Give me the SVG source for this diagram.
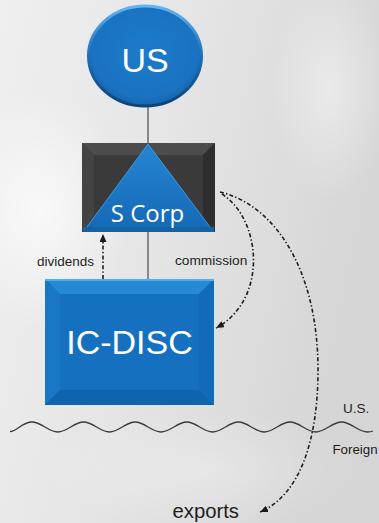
<svg xmlns="http://www.w3.org/2000/svg" width="379" height="523" viewBox="0 0 379 523">
  <defs>
    <linearGradient id="bg" x1="0" y1="0" x2="1" y2="0.3">
      <stop offset="0" stop-color="#efefef"/>
      <stop offset="0.45" stop-color="#e6e6e6"/>
      <stop offset="1" stop-color="#d6d6d6"/>
    </linearGradient>
    <radialGradient id="glowA" cx="0.5" cy="0.5" r="0.5">
      <stop offset="0" stop-color="#ffffff" stop-opacity="0.7"/>
      <stop offset="1" stop-color="#ffffff" stop-opacity="0"/>
    </radialGradient>
    <radialGradient id="usFill" cx="0.5" cy="0.45" r="0.55">
      <stop offset="0" stop-color="#1d7bcc"/>
      <stop offset="0.85" stop-color="#1a72c1"/>
      <stop offset="1" stop-color="#1563ac"/>
    </radialGradient>
    <linearGradient id="usRim" x1="0" y1="0" x2="0" y2="1">
      <stop offset="0" stop-color="#62b4f2"/>
      <stop offset="0.5" stop-color="#1b6fbb"/>
      <stop offset="1" stop-color="#0b4479"/>
    </linearGradient>
    <linearGradient id="triFill" x1="0" y1="0" x2="0" y2="1">
      <stop offset="0" stop-color="#2585d2"/>
      <stop offset="1" stop-color="#1569b5"/>
    </linearGradient>
    <marker id="arrow" viewBox="0 0 8 7" refX="8" refY="3.5" markerWidth="8" markerHeight="7" markerUnits="userSpaceOnUse" orient="auto">
      <path d="M0,0 L8,3.5 L0,7 z" fill="#1a1a1a"/>
    </marker>
    <style>
      .solid { stroke: #6a6a6a; stroke-width: 1.5; fill: none; }
      .flow { stroke: #1e1e1e; stroke-width: 1.6; fill: none; stroke-dasharray: 4 2.2 1.4 2.2; }
      .lbl { font-family: "Liberation Sans", Arial, sans-serif; fill: #1e1e1e; }
      .big { font-family: "Liberation Sans", Arial, sans-serif; fill: #ffffff; }
    </style>
  </defs>

  <!-- marbled backdrop -->
  <rect x="0" y="0" width="379" height="523" fill="url(#bg)"/>
  <ellipse cx="40" cy="210" rx="90" ry="120" fill="url(#glowA)"/>
  <ellipse cx="330" cy="90" rx="60" ry="110" fill="url(#glowA)" opacity="0.6"/>
  <ellipse cx="200" cy="470" rx="160" ry="60" fill="url(#glowA)" opacity="0.4"/>

  <!-- connectors -->
  <g id="connectors">
    <line class="solid" x1="148" y1="106" x2="148" y2="143"/>
    <line class="solid" x1="148" y1="232" x2="148" y2="279"/>
    <line class="flow" x1="103" y1="279" x2="103" y2="234" marker-end="url(#arrow)"/>
    <path class="flow" d="M222 194 C262 220 268 300 216 328" marker-end="url(#arrow)"/>
    <path class="flow" d="M220 192 C275 205 318 270 318 370 C318 440 300 495 260 512" marker-end="url(#arrow)"/>
    <path d="M10 431.5 C16 432 22 422 32 422 C41.3 422 48.5 432 57.8 432 C67.1 432 74.3 422 83.6 422 C92.9 422 100.1 432 109.4 432 C118.7 432 125.9 422 135.2 422 C144.5 422 151.7 432 161 432 C170.3 432 177.5 422 186.8 422 C196.1 422 203.3 432 212.6 432 C221.9 432 229.1 422 238.4 422 C247.7 422 254.9 432 264.2 432 C273.5 432 280.7 422 290 422 C299.3 422 306.5 432 315.8 432 C325.1 432 332.3 422 341.6 422 C350.9 422 358.1 432 367.4 432 C369.5 432 371.5 431.6 373 431" fill="none" stroke="#3a3a3a" stroke-width="1.3"/>
  </g>

  <!-- US -->
  <g id="us">
    <ellipse cx="145" cy="56" rx="56.5" ry="50" fill="url(#usFill)" stroke="url(#usRim)" stroke-width="3"/>
    <text class="big" x="145" y="71.5" font-size="34" text-anchor="middle">US</text>
  </g>

  <!-- S Corp -->
  <g id="scorp">
    <rect x="82" y="143" width="133" height="89" fill="#353535"/>
    <polygon points="82,143 215,143 203,155 94,155" fill="#4c4c4c"/>
    <polygon points="82,143 94,155 94,220 82,232" fill="#444444"/>
    <polygon points="215,143 203,155 203,220 215,232" fill="#2e2e2e"/>
    <rect x="94" y="155" width="109" height="65" fill="#3a3a3a"/>
    <polygon points="148,144 84,231 213,231" fill="url(#triFill)" stroke="#3b98de" stroke-width="1"/>
    <rect x="83" y="227" width="131" height="5" fill="#1461a6"/>
    <text x="147.5" y="221.5" font-family="'Open Sans', 'Noto Sans', sans-serif" font-size="24" fill="#ffffff" text-anchor="middle">S Corp</text>
  </g>

  <!-- IC-DISC -->
  <g id="icdisc">
    <rect x="45" y="279" width="169" height="126" fill="#1570be"/>
    <polygon points="45,279 214,279 199,294 60,294" fill="#2589d6"/>
    <polygon points="45,279 60,294 60,390 45,405" fill="#1a77c5"/>
    <polygon points="214,279 199,294 199,390 214,405" fill="#136ab6"/>
    <polygon points="45,405 60,390 199,390 214,405" fill="#1064ad"/>
    <rect x="60" y="294" width="139" height="96" fill="#1571bf"/>
    <line x1="45" y1="280" x2="214" y2="280" stroke="#52aef0" stroke-width="2"/>
    <text class="big" x="129.5" y="354" font-size="34" text-anchor="middle">IC-DISC</text>
  </g>

  <!-- labels -->
  <g id="labels">
    <text class="lbl" x="37" y="266" font-size="13.5">dividends</text>
    <text class="lbl" x="175" y="265" font-size="13.7">commission</text>
    <text class="lbl" x="343" y="413" font-size="13.5">U.S.</text>
    <text class="lbl" x="332.5" y="454" font-size="13.3">Foreign</text>
    <text class="lbl" x="172.5" y="517.5" font-size="20.3">exports</text>
  </g>
</svg>
